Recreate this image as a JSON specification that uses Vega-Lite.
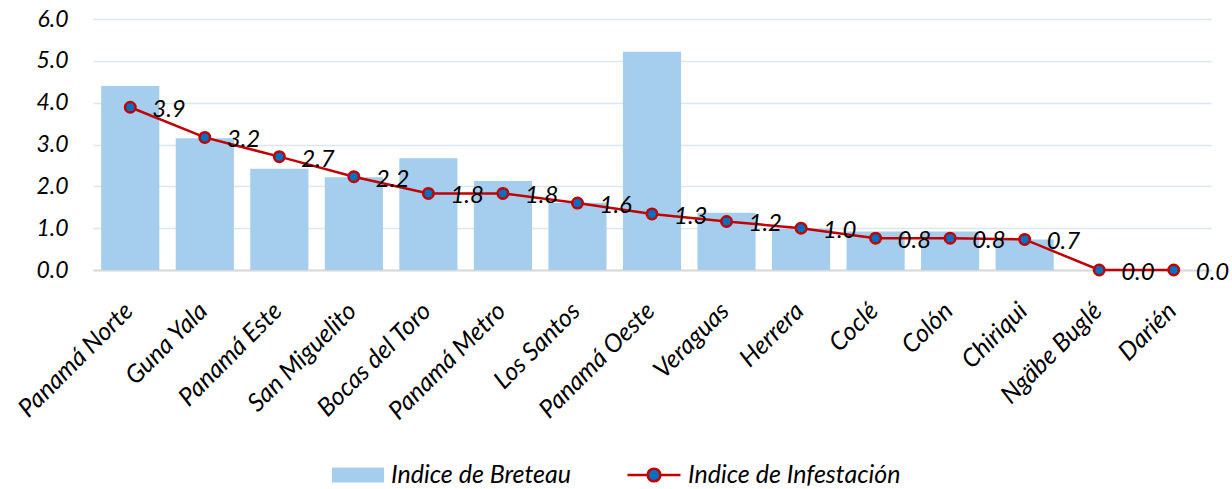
{
  "$schema": "https://vega.github.io/schema/vega-lite/v6.json",
  "width": 1118,
  "height": 251,
  "autosize": {"type": "none"},
  "padding": {"left": 93, "top": 19, "right": 21, "bottom": 219},
  "background": "white",
  "config": {
    "view": {"stroke": null},
    "font": "Lato",
    "axis": {"labelFont": "Lato", "labelFontStyle": "italic", "labelColor": "#000000"},
    "legend": {"labelFont": "Lato", "labelFontStyle": "italic", "labelColor": "#000000", "labelFontSize": 25, "padding": 0, "labelLimit": 500}
  },
  "data": {
    "values": [
      {"region": "Panamá Norte", "breteau": 4.40, "infest": 3.89},
      {"region": "Guna Yala", "breteau": 3.15, "infest": 3.17},
      {"region": "Panamá Este", "breteau": 2.42, "infest": 2.71},
      {"region": "San Miguelito", "breteau": 2.22, "infest": 2.23},
      {"region": "Bocas del Toro", "breteau": 2.67, "infest": 1.83},
      {"region": "Panamá Metro", "breteau": 2.13, "infest": 1.83},
      {"region": "Los Santos", "breteau": 1.61, "infest": 1.60},
      {"region": "Panamá Oeste", "breteau": 5.22, "infest": 1.34},
      {"region": "Veraguas", "breteau": 1.37, "infest": 1.16},
      {"region": "Herrera", "breteau": 0.99, "infest": 1.0},
      {"region": "Coclé", "breteau": 0.92, "infest": 0.76},
      {"region": "Colón", "breteau": 0.92, "infest": 0.76},
      {"region": "Chiriqui", "breteau": 0.73, "infest": 0.73},
      {"region": "Ngäbe Buglé", "breteau": 0, "infest": 0},
      {"region": "Darién", "breteau": 0, "infest": 0}
    ]
  },
  "encoding": {
    "x": {
      "field": "region",
      "type": "nominal",
      "sort": null,
      "scale": {"paddingInner": 0.22, "paddingOuter": 0.11},
      "axis": {
        "title": null,
        "labelAngle": -45,
        "labelPadding": 28,
        "labelOffset": -10,
        "labelFontSize": 25,
        "labelLimit": 400,
        "ticks": false,
        "domain": true,
        "domainColor": "#D9D9D9",
        "domainWidth": 2,
        "grid": false
      }
    }
  },
  "layer": [
    {
      "mark": {"type": "bar"},
      "encoding": {
        "y": {
          "field": "breteau",
          "type": "quantitative",
          "scale": {"domain": [0, 6], "nice": false},
          "axis": {
            "title": null,
            "values": [0, 1, 2, 3, 4, 5, 6],
            "format": ".1f",
            "ticks": false,
            "domain": false,
            "labelPadding": 25,
            "labelFontSize": 23,
            "gridColor": "#DAE6F4",
            "gridWidth": 1.5
          }
        },
        "fill": {
          "datum": "Indice de Breteau",
          "scale": {"range": ["#A5CEEE"]},
          "legend": {
            "title": null,
            "orient": "none",
            "legendX": 239,
            "legendY": 430,
            "symbolType": "M-1,-0.29L1,-0.29L1,0.29L-1,0.29Z",
            "symbolSize": 2704,
            "symbolStrokeWidth": 0,
            "labelOffset": 7
          }
        }
      }
    },
    {
      "mark": {"type": "line", "color": "#C00000", "strokeWidth": 2.5},
      "encoding": {
        "y": {"field": "infest", "type": "quantitative"},
        "stroke": {
          "datum": "Indice de Infestación",
          "scale": {"range": ["#C00000"]},
          "legend": {
            "title": null,
            "orient": "none",
            "legendX": 533,
            "legendY": 428,
            "symbolType": "M-1,0L-0.24,0M0.24,0L1,0M0.24,0A0.24,0.24 0 1 1 -0.24,0A0.24,0.24 0 1 1 0.24,0Z",
            "symbolSize": 2809,
            "symbolStrokeWidth": 2.5,
            "symbolFillColor": "#0070C0",
            "labelOffset": 6,
            "encode": {"symbols": {"update": {"fill": {"value": "#0070C0"}, "stroke": {"value": "#C00000"}, "strokeWidth": {"value": 2.5}}}}
          }
        }
      }
    },
    {
      "mark": {"type": "point", "filled": true, "fill": "#0070C0", "stroke": "#C00000", "strokeWidth": 2.5, "size": 110, "shape": "circle", "opacity": 1},
      "encoding": {
        "y": {"field": "infest", "type": "quantitative"}
      }
    },
    {
      "mark": {"type": "text", "align": "left", "baseline": "middle", "dx": 22, "dy": 3, "fontSize": 24, "fontStyle": "italic", "font": "Lato", "color": "#000000"},
      "encoding": {
        "y": {"field": "infest", "type": "quantitative"},
        "text": {"field": "infest", "type": "quantitative", "format": ".1f"}
      }
    }
  ]
}
